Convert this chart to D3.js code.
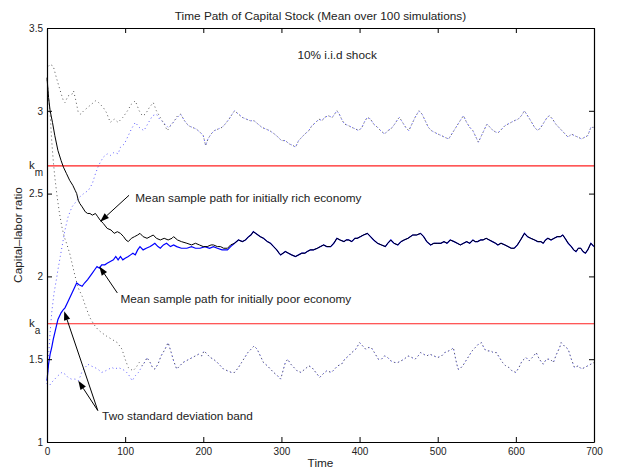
<!DOCTYPE html>
<html>
<head>
<meta charset="utf-8">
<script src="https://d3js.org/d3.v7.min.js"></script>
<style>
  body { margin: 0; background: #fff; }
  text { font-family: "Liberation Sans", Arial, Helvetica, sans-serif; fill: #222; }
</style>
</head>
<body>
<script>
// mean path of the initially rich economy, before it meets the poor one  [time, k]
const richMeanHead = [[0,3.2],[2,3.08],[4,3.0],[7,2.93],[10,2.85],[14,2.76],[18,2.7],[21,2.66],[25,2.62],[29,2.58],[33,2.55],[36,2.52],[38,2.5],[40,2.46],[42,2.44],[45,2.42],[49,2.39],[52,2.38],[55,2.38],[58,2.37],[62,2.38],[65,2.36],[68,2.34],[72,2.32],[77,2.29],[82,2.28],[86,2.26],[90,2.27],[94,2.26],[98,2.24],[101,2.22],[104,2.21],[108,2.23],[112,2.24],[116,2.25],[119,2.26],[123,2.24],[128,2.23],[132,2.24],[136,2.25],[140,2.23],[145,2.22],[150,2.23],[155,2.22],[160,2.23],[162,2.24],[167,2.22],[172,2.21],[179,2.2],[185,2.19],[190,2.2],[195,2.19],[200,2.18],[205,2.18],[210,2.19],[213,2.19],[218,2.18],[222,2.18],[226,2.17],[231,2.17],[235,2.19],[240,2.2]];
// mean path of the initially poor economy
const poorMeanHead = [[0,1.37],[2,1.47],[4,1.53],[6,1.57],[8,1.62],[11,1.68],[14,1.74],[18,1.78],[21,1.8],[23,1.81],[26,1.84],[29,1.87],[32,1.9],[35,1.93],[38,1.96],[41,1.95],[45,1.94],[48,1.96],[52,1.98],[55,2.0],[58,2.02],[61,2.04],[64,2.06],[67,2.05],[70,2.07],[74,2.07],[77,2.08],[81,2.09],[85,2.1],[88,2.12],[91,2.1],[94,2.12],[97,2.1],[100,2.11],[104,2.12],[107,2.13],[110,2.14],[113,2.13],[116,2.16],[119,2.18],[123,2.16],[127,2.17],[132,2.18],[135,2.19],[138,2.2],[142,2.18],[145,2.17],[149,2.19],[153,2.2],[158,2.18],[162,2.19],[166,2.18],[172,2.17],[179,2.17],[185,2.18],[190,2.17],[196,2.17],[202,2.18],[208,2.17],[213,2.18],[218,2.17],[224,2.16],[231,2.16],[235,2.18],[240,2.2]];
// shared mean path once both have converged
const meanTail = [[245,2.22],[250,2.21],[254,2.22],[258,2.24],[261,2.25],[264,2.27],[267,2.26],[270,2.25],[273,2.24],[277,2.23],[282,2.21],[286,2.2],[290,2.18],[294,2.16],[297,2.14],[299,2.13],[302,2.14],[305,2.15],[309,2.14],[313,2.13],[318,2.12],[322,2.13],[326,2.14],[330,2.14],[333,2.15],[337,2.16],[341,2.16],[346,2.17],[350,2.18],[354,2.19],[358,2.18],[363,2.18],[367,2.2],[371,2.23],[375,2.22],[380,2.21],[383,2.22],[386,2.22],[390,2.21],[394,2.23],[397,2.23],[401,2.24],[405,2.25],[410,2.26],[414,2.24],[418,2.22],[423,2.2],[428,2.19],[433,2.18],[436,2.2],[440,2.22],[444,2.2],[449,2.19],[453,2.21],[457,2.22],[462,2.23],[468,2.25],[473,2.25],[478,2.26],[482,2.24],[486,2.21],[491,2.19],[495,2.2],[500,2.2],[504,2.2],[508,2.21],[512,2.2],[516,2.22],[521,2.21],[525,2.2],[529,2.19],[533,2.2],[537,2.21],[541,2.2],[545,2.22],[548,2.21],[551,2.21],[555,2.22],[558,2.22],[562,2.23],[566,2.22],[570,2.21],[574,2.2],[577,2.19],[581,2.2],[586,2.19],[590,2.18],[594,2.17],[598,2.17],[602,2.19],[606,2.22],[611,2.26],[615,2.24],[619,2.23],[624,2.22],[628,2.21],[632,2.21],[635,2.2],[638,2.22],[641,2.23],[645,2.22],[649,2.23],[653,2.24],[657,2.24],[660,2.25],[663,2.23],[667,2.2],[671,2.18],[674,2.16],[677,2.15],[680,2.17],[683,2.17],[686,2.15],[689,2.14],[692,2.16],[696,2.2],[700,2.18]];

// upper two-sd band, rich economy (whole run)
const richUpper = [[0,3.26],[4,3.28],[8,3.27],[12,3.2],[17,3.12],[21,3.06],[23,3.05],[27,3.09],[32,3.1],[34,3.12],[37,3.06],[40,2.99],[43,2.98],[47,3.0],[52,3.02],[57,3.04],[62,3.06],[66,3.05],[72,3.02],[76,2.99],[81,2.93],[86,2.95],[91,2.93],[97,2.96],[103,3.0],[108,3.04],[113,3.06],[118,3.0],[122,2.97],[126,2.98],[131,3.02],[136,3.05],[140,3.0],[145,2.96],[150,2.92],[154,2.88],[158,2.91],[163,2.94],[167,2.97],[171,2.98],[176,2.94],[181,2.91],[186,2.9],[191,2.89],[196,2.87],[200,2.85],[203,2.79],[206,2.83],[210,2.86],[214,2.88],[219,2.89],[224,2.9],[228,2.92],[233,2.95],[237,2.98],[240,3.0],[245,2.98],[250,2.96],[255,2.95],[260,2.94],[265,2.94],[270,2.92],[275,2.9],[280,2.89],[285,2.88],[291,2.86],[296,2.84],[300,2.82],[305,2.82],[310,2.8],[315,2.79],[318,2.78],[322,2.82],[326,2.84],[330,2.86],[335,2.88],[339,2.91],[344,2.93],[348,2.95],[352,2.94],[355,2.96],[360,2.97],[365,2.96],[368,2.98],[371,3.0],[374,2.98],[378,2.94],[381,2.92],[386,2.91],[390,2.9],[395,2.89],[399,2.88],[403,2.9],[407,2.94],[410,2.96],[414,2.95],[418,2.92],[423,2.9],[427,2.88],[432,2.86],[436,2.88],[440,2.89],[445,2.92],[449,2.95],[451,2.96],[455,2.93],[459,2.9],[463,2.88],[467,2.92],[471,2.96],[476,3.0],[480,2.98],[484,2.94],[488,2.9],[492,2.88],[496,2.87],[500,2.86],[505,2.85],[509,2.84],[514,2.83],[518,2.86],[522,2.89],[526,2.92],[530,2.95],[533,2.97],[537,2.93],[541,2.9],[545,2.88],[549,2.84],[552,2.81],[556,2.85],[560,2.89],[563,2.92],[567,2.9],[571,2.88],[575,2.87],[578,2.87],[582,2.89],[586,2.91],[590,2.92],[594,2.93],[598,2.94],[603,2.95],[607,2.97],[611,3.0],[615,2.97],[619,2.94],[624,2.9],[628,2.88],[632,2.9],[636,2.93],[640,2.96],[643,2.97],[647,2.95],[651,2.92],[655,2.9],[659,2.88],[663,2.86],[667,2.84],[671,2.86],[675,2.85],[680,2.84],[684,2.83],[688,2.84],[692,2.85],[696,2.9],[700,2.9]];
// upper band, poor economy, until it joins the rich one
const poorUpperHead = [[0,1.35],[2,1.52],[4,1.66],[6,1.78],[9,1.9],[12,1.98],[14,2.04],[17,2.12],[20,2.2],[23,2.28],[27,2.36],[32,2.42],[37,2.45],[42,2.48],[47,2.5],[53,2.52],[58,2.56],[62,2.62],[66,2.67],[72,2.72],[77,2.74],[81,2.73],[86,2.75],[91,2.74],[94,2.78],[99,2.8],[103,2.84],[108,2.89],[113,2.93],[118,2.9],[124,2.88],[130,2.93],[135,2.97],[140,2.98],[144,2.95],[149,2.93],[155,2.9],[160,2.92],[165,2.95],[171,2.98]];

// lower bands before they join
const richLowerHead = [[0,3.2],[2,3.08],[4,2.98],[6,2.82],[8,2.7],[10,2.6],[13,2.48],[16,2.38],[19,2.3],[22,2.24],[25,2.2],[29,2.14],[33,2.06],[36,2.0],[40,1.93],[45,1.88],[50,1.81],[55,1.75],[60,1.71],[65,1.68],[70,1.66],[76,1.64],[83,1.62],[90,1.6],[96,1.56],[100,1.5],[104,1.45],[107,1.44],[110,1.43],[114,1.45],[118,1.48],[122,1.46]];
const poorLowerHead = [[0,1.33],[3,1.34],[6,1.36],[10,1.38],[14,1.4],[19,1.42],[23,1.41],[27,1.39],[31,1.38],[36,1.38],[40,1.37],[43,1.4],[45,1.43],[49,1.45],[52,1.47],[56,1.46],[61,1.45],[65,1.44],[70,1.42],[75,1.43],[79,1.44],[83,1.45],[87,1.44],[91,1.45],[96,1.44],[100,1.43],[104,1.41],[109,1.37],[113,1.4],[117,1.42],[122,1.46]];
const lowerTail = [[126,1.49],[128,1.51],[132,1.48],[135,1.45],[138,1.44],[142,1.47],[146,1.52],[151,1.56],[155,1.6],[159,1.54],[162,1.49],[166,1.44],[170,1.46],[174,1.48],[178,1.49],[182,1.5],[186,1.51],[190,1.52],[194,1.53],[198,1.52],[201,1.55],[205,1.53],[209,1.51],[213,1.5],[218,1.48],[222,1.46],[226,1.44],[231,1.43],[236,1.42],[240,1.42],[245,1.45],[249,1.48],[253,1.51],[257,1.54],[261,1.56],[265,1.58],[269,1.56],[273,1.52],[277,1.48],[282,1.46],[286,1.44],[290,1.42],[295,1.4],[299,1.38],[302,1.43],[305,1.48],[308,1.5],[312,1.47],[316,1.45],[320,1.43],[325,1.42],[330,1.44],[335,1.46],[339,1.45],[344,1.42],[349,1.39],[353,1.41],[358,1.43],[364,1.42],[368,1.44],[372,1.46],[377,1.47],[381,1.5],[386,1.52],[390,1.54],[395,1.56],[400,1.6],[404,1.58],[408,1.56],[411,1.57],[415,1.57],[419,1.54],[424,1.5],[428,1.5],[432,1.52],[436,1.51],[440,1.49],[445,1.48],[449,1.48],[453,1.49],[457,1.5],[462,1.52],[467,1.51],[471,1.5],[475,1.52],[478,1.54],[482,1.53],[486,1.52],[490,1.53],[495,1.52],[500,1.51],[505,1.52],[509,1.54],[514,1.55],[518,1.56],[520,1.57],[523,1.5],[526,1.44],[528,1.44],[532,1.46],[536,1.49],[540,1.52],[544,1.55],[548,1.57],[552,1.59],[556,1.6],[560,1.56],[564,1.55],[568,1.55],[571,1.54],[575,1.54],[579,1.51],[583,1.48],[587,1.46],[591,1.45],[595,1.43],[600,1.42],[604,1.45],[608,1.49],[613,1.51],[617,1.49],[621,1.51],[626,1.54],[630,1.5],[635,1.47],[639,1.5],[644,1.5],[648,1.48],[652,1.53],[656,1.57],[658,1.6],[662,1.58],[667,1.56],[671,1.5],[675,1.45],[680,1.46],[684,1.44],[688,1.45],[692,1.46],[696,1.47],[700,1.48]];

// steady states
const kM = 2.667, kA = 1.714;
const xTicks = [0, 100, 200, 300, 400, 500, 600, 700];
const yTicks = [1, 1.5, 2, 2.5, 3, 3.5];

const width = 620, height = 473;
const margin = {top: 28, right: 26, bottom: 31, left: 47};

const svg = d3.select('body').append('svg')
    .attr('width', width)
    .attr('height', height);

const x = d3.scaleLinear().domain([0, 700]).range([margin.left, width - margin.right]);
const y = d3.scaleLinear().domain([1, 3.5]).range([height - margin.bottom, margin.top]);

const line = d3.line().x(d => x(d[0])).y(d => y(d[1]));

const richMean = richMeanHead.concat(meanTail);
const poorMean = poorMeanHead.concat(meanTail);
const poorUpper = poorUpperHead.concat(richUpper.filter(d => d[0] > 171));
const richLower = richLowerHead.concat(lowerTail);
const poorLower = poorLowerHead.concat(lowerTail);

const plot = svg.append('g');

// dotted bands
function dotted(data, color, offset) {
  plot.append('path')
    .attr('d', line(data))
    .attr('fill', 'none')
    .attr('stroke', color)
    .attr('stroke-width', 1)
    .attr('stroke-dasharray', '1,3')
    .attr('stroke-dashoffset', offset);
}
dotted(poorUpper, '#5a5aff', 0);
dotted(poorLower, '#5a5aff', 0);
dotted(richUpper, '#555', 2);
dotted(richLower, '#555', 2);

// steady state lines
[kM, kA].forEach(k => {
  plot.append('line')
    .attr('x1', x(0)).attr('x2', x(700))
    .attr('y1', y(k)).attr('y2', y(k))
    .attr('stroke', '#ff2020').attr('stroke-width', 1.2);
});

// mean paths
plot.append('path').attr('d', line(poorMean))
  .attr('fill', 'none').attr('stroke', '#0000ff').attr('stroke-width', 1.2);
plot.append('path').attr('d', line(richMean))
  .attr('fill', 'none').attr('stroke', '#000').attr('stroke-width', 1);

// axes box, MATLAB style inward ticks
const xAxisB = d3.axisBottom(x).tickValues(xTicks).tickSizeInner(-5).tickSizeOuter(0).tickPadding(6);
const xAxisT = d3.axisTop(x).tickValues(xTicks).tickSizeInner(-5).tickSizeOuter(0).tickFormat('');
const yAxisL = d3.axisLeft(y).tickValues(yTicks).tickSizeInner(-5).tickSizeOuter(0).tickPadding(4).tickFormat(d3.format('~g'));
const yAxisR = d3.axisRight(y).tickValues(yTicks).tickSizeInner(-5).tickSizeOuter(0).tickFormat('');

function styleAxis(g) {
  g.select('.domain').attr('stroke', '#000').attr('stroke-width', 1.2);
  g.selectAll('.tick line').attr('stroke', '#000');
  g.selectAll('.tick text').attr('font-size', 10).attr('fill', '#222')
    .attr('font-family', '"Liberation Sans", Arial, Helvetica, sans-serif');
}
svg.append('g').attr('transform', `translate(0,${height - margin.bottom})`).call(xAxisB).call(styleAxis);
svg.append('g').attr('transform', `translate(0,${margin.top})`).call(xAxisT).call(styleAxis);
svg.append('g').attr('transform', `translate(${margin.left},0)`).call(yAxisL).call(styleAxis);
svg.append('g').attr('transform', `translate(${width - margin.right},0)`).call(yAxisR).call(styleAxis);

// k_m and k_a labels on the y axis
[['k', 'm', kM], ['k', 'a', kA]].forEach(([k, sub, v]) => {
  const t = svg.append('text')
    .attr('x', margin.left - 18)
    .attr('y', y(v) + 3)
    .attr('font-size', 11.5);
  t.append('tspan').text(k);
  t.append('tspan').attr('dy', 7).attr('font-size', 10).text(sub);
});

// title and axis labels
const fs = 11.8;
svg.append('text').attr('x', (margin.left + width - margin.right) / 2).attr('y', 20)
  .attr('text-anchor', 'middle').attr('font-size', fs)
  .text('Time Path of Capital Stock (Mean over 100 simulations)');
svg.append('text').attr('x', (margin.left + width - margin.right) / 2).attr('y', 467)
  .attr('text-anchor', 'middle').attr('font-size', fs).text('Time');
svg.append('text')
  .attr('transform', `translate(22,${(margin.top + height - margin.bottom) / 2}) rotate(-90)`)
  .attr('text-anchor', 'middle').attr('font-size', fs).text('Capital\u2013labor ratio');

svg.append('text').attr('x', x(320.5)).attr('y', y(3.31)).attr('font-size', fs).text('10% i.i.d shock');

// annotations (data coordinates)
const notes = [
  {text: 'Mean sample path for initially rich economy', at: [113, 2.45]},
  {text: 'Mean sample path for initially poor economy', at: [94, 1.84]},
  {text: 'Two standard deviation band', at: [70.5, 1.13]}
];
notes.forEach(n => {
  svg.append('text').attr('x', x(n.at[0])).attr('y', y(n.at[1])).attr('font-size', fs).text(n.text);
});

const arrows = [
  {from: [105, 2.49], to: [68, 2.33]},
  {from: [90, 1.90], to: [67, 2.06]},
  {from: [65, 1.19], to: [22, 1.79]},
  {from: [65, 1.19], to: [40, 1.37]}
];
arrows.forEach(a => {
  const x1 = x(a.from[0]), y1 = y(a.from[1]), x2 = x(a.to[0]), y2 = y(a.to[1]);
  const ang = Math.atan2(y2 - y1, x2 - x1);
  const len = 9, half = 3.2;
  const bx = x2 - len * Math.cos(ang), by = y2 - len * Math.sin(ang);
  svg.append('line').attr('x1', x1).attr('y1', y1).attr('x2', bx).attr('y2', by)
    .attr('stroke', '#000').attr('stroke-width', 1);
  const p = [
    [x2, y2],
    [bx + half * Math.sin(ang), by - half * Math.cos(ang)],
    [bx - half * Math.sin(ang), by + half * Math.cos(ang)]
  ];
  svg.append('polygon').attr('points', p.map(q => q.join(',')).join(' ')).attr('fill', '#000');
});
</script>
</body>
</html>
